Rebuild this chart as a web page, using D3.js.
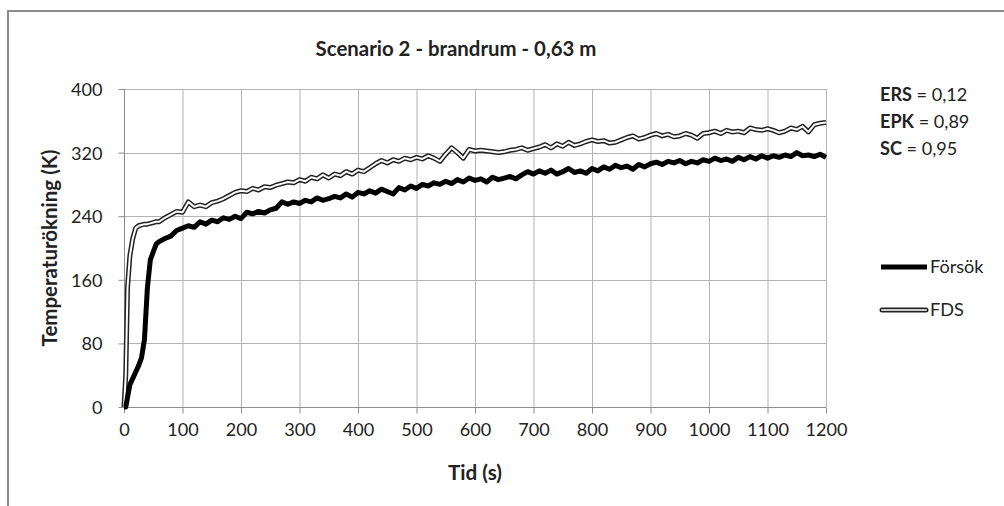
<!DOCTYPE html>
<html><head><meta charset="utf-8">
<script src="https://cdn.jsdelivr.net/npm/d3@7/dist/d3.min.js"></script>
<style>body{margin:0;background:#fff}svg{display:block}text{font-family:Lato,"Open Sans",sans-serif;fill:#222}</style>
</head><body><svg id="c" width="1004" height="506"></svg>
<script>
const title = "Scenario 2 - brandrum - 0,63 m";
const xTicks = [0,100,200,300,400,500,600,700,800,900,1000,1100,1200];
const yTicks = [0,80,160,240,320,400];
const seriesNames = ["Försök","FDS"];
const stats = [["ERS","= 0,12"],["EPK","= 0,89"],["SC","= 0,95"]];

const time = [0,3,6,10,15,20,25,30,35,40,45,50,55,60,
 70,80,90,100,
 110,120,130,140,150,160,170,180,190,200,
 210,220,230,240,250,260,270,280,290,300,
 310,320,330,340,350,360,370,380,390,400,
 410,420,430,440,450,460,470,480,490,500,
 510,520,530,540,550,560,570,580,590,600,
 610,620,630,640,650,660,670,680,690,700,
 710,720,730,740,750,760,770,780,790,800,
 810,820,830,840,850,860,870,880,890,900,
 910,920,930,940,950,960,970,980,990,1000,
 1010,1020,1030,1040,1050,1060,1070,1080,1090,1100,
 1110,1120,1130,1140,1150,1160,1170,1180,1190,1200];

const forsok = [0,0,12,28,36,44,52,62,85,150,185,195,205,208,
 212,215,222,225,
 228,226,233,230,235,233,238,236,240,237,
 245,243,246,244,248,250,258,255,258,256,
 260,258,263,260,262,265,263,268,264,270,
 268,272,269,274,271,268,276,273,278,275,
 280,278,282,280,284,281,286,283,288,285,
 287,283,289,286,288,290,287,292,296,293,
 297,294,298,293,296,300,295,297,294,300,
 297,302,299,304,301,303,299,305,302,306,
 308,305,309,307,310,306,309,307,311,309,
 313,310,312,309,314,311,315,312,316,313,
 316,314,317,315,320,316,317,315,318,314];

const fds = [0,40,150,190,212,225,228,229,230,230,231,232,233,233,
 238,242,246,245,
 258,252,254,252,257,259,262,266,270,272,
 271,275,273,277,276,279,281,283,282,286,
 284,289,287,292,288,293,291,296,293,298,
 296,301,306,310,307,311,309,313,311,314,
 312,316,313,309,318,326,320,313,324,322,
 323,322,321,320,321,323,324,326,323,325,
 327,330,326,331,328,333,329,331,334,336,
 334,335,332,333,336,339,341,337,339,342,
 344,341,343,340,341,344,342,338,344,345,
 347,344,348,346,347,345,351,349,348,350,
 348,345,347,351,349,353,346,355,357,358];

const svg = d3.select("#c");
const W = 1004, H = 506;
const m = {l:124, r:826, t:89, b:407};
const x = d3.scaleLinear().domain([0,1200]).range([m.l, m.r]);
const y = d3.scaleLinear().domain([0,400]).range([m.b, m.t]);
const FONT = "Lato,'Open Sans',sans-serif";

// measure helper: font size so that text has target width
function fitSize(str, target, weight) {
  const t = svg.append("text").attr("font-size",100).attr("font-weight",weight||"normal").style("font-family",FONT).text(str);
  const w = t.node().getComputedTextLength();
  t.remove();
  return 100*target/w;
}
const tickSize = fitSize("1000", 42);

// frame
svg.append("path").attr("d", `M8,${H} L8,11 L${W},11`).attr("fill","none").attr("stroke","#8c8c8c").attr("stroke-width",2);

// grid
const g = svg.append("g");
g.selectAll(".vg").data(xTicks.slice(1)).join("line")
 .attr("x1",d=>x(d)+0.5).attr("x2",d=>x(d)+0.5).attr("y1",m.t).attr("y2",m.b)
 .attr("stroke","#b3b3b3").attr("stroke-width",1);
g.selectAll(".hg").data(yTicks.slice(1)).join("line")
 .attr("x1",m.l).attr("x2",m.r).attr("y1",d=>Math.round(y(d))+0.5).attr("y2",d=>Math.round(y(d))+0.5)
 .attr("stroke","#b3b3b3").attr("stroke-width",1);

// axes
const xAxis = d3.axisBottom(x).tickValues(xTicks).tickFormat(d3.format("d")).tickSize(6).tickPadding(10);
const gx = svg.append("g").attr("transform",`translate(0,${Math.round(y(0))+0.5})`).call(xAxis);
gx.select(".domain").attr("stroke","#8c8c8c").attr("d",`M${m.l},0H${m.r}`);
gx.selectAll(".tick line").attr("stroke","#8c8c8c");
gx.selectAll("text").attr("font-size",tickSize).attr("fill","#222").style("font-family",FONT);

const yAxis = d3.axisLeft(y).tickValues(yTicks).tickFormat(d3.format("d")).tickSize(6).tickPadding(16);
const gy = svg.append("g").attr("transform",`translate(${m.l+0.5},0)`).call(yAxis);
gy.select(".domain").attr("stroke","#8c8c8c").attr("d",`M0,${m.t}V${m.b}`);
gy.selectAll(".tick line").attr("stroke","#8c8c8c");
gy.selectAll("text").attr("font-size",tickSize).attr("fill","#222").style("font-family",FONT).attr("dy","0.36em");

// lines
const pts = vals => time.map((t,i)=>[t, vals[i]]);
const line = d3.line().x(d=>x(d[0])).y(d=>y(d[1])).curve(d3.curveLinear);

svg.append("path").attr("d",line(pts(fds))).attr("fill","none").attr("stroke","#222").attr("stroke-width",5).attr("stroke-linejoin","round");
svg.append("path").attr("d",line(pts(fds))).attr("fill","none").attr("stroke","#fff").attr("stroke-width",2).attr("stroke-linejoin","round");
svg.append("path").attr("d",line(pts(forsok))).attr("fill","none").attr("stroke","#000").attr("stroke-width",5).attr("stroke-linejoin","round");

// title
svg.append("text").attr("x",456).attr("y",56).attr("text-anchor","middle")
 .attr("font-size",fitSize(title,281,"bold")).attr("font-weight","bold").text(title);

// axis titles
svg.append("text").attr("x",475).attr("y",480).attr("text-anchor","middle")
 .attr("font-size",fitSize("Tid (s)",54,"bold")).attr("font-weight","bold").text("Tid (s)");
svg.append("text").attr("transform","translate(57,248) rotate(-90)").attr("text-anchor","middle")
 .attr("font-size",fitSize("Temperaturökning (K)",197,"bold")).attr("font-weight","bold").text("Temperaturökning (K)");

// stats
const statSize = Math.min(tickSize, 22);
stats.forEach((s,i)=>{
  const t = svg.append("text").attr("x",880).attr("y",101+i*27).attr("font-size",statSize);
  t.append("tspan").attr("font-weight","bold").text(s[0]);
  t.append("tspan").text(" "+s[1]);
});

// legend
const ly = [267, 310];
svg.append("line").attr("x1",881).attr("x2",927).attr("y1",ly[0]).attr("y2",ly[0]).attr("stroke","#000").attr("stroke-width",5);
svg.append("line").attr("x1",882).attr("x2",926).attr("y1",ly[1]).attr("y2",ly[1]).attr("stroke","#222").attr("stroke-width",5).attr("stroke-linecap","round");
svg.append("line").attr("x1",882).attr("x2",926).attr("y1",ly[1]).attr("y2",ly[1]).attr("stroke","#ccc").attr("stroke-width",2).attr("stroke-linecap","round");
seriesNames.forEach((n,i)=>{
  svg.append("text").attr("x",930).attr("y",ly[i]+6).attr("font-size",tickSize).text(n);
});
</script></body></html>
